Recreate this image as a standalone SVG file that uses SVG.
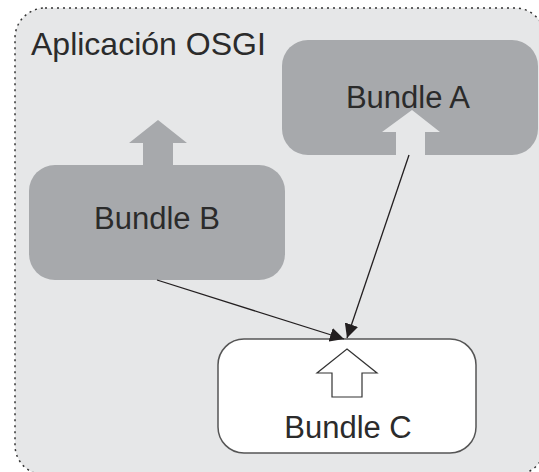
<svg xmlns="http://www.w3.org/2000/svg" width="539" height="472" viewBox="0 0 539 472">
<style>
.lbl{font-family:"Liberation Sans",Arial,sans-serif;font-size:31px;fill:#2b2b2b;}
.dark{fill:#a7a9ac;}
.conn{stroke:#231f20;stroke-width:1.3;fill:none;}
</style>
<defs>
<marker id="ah" viewBox="0 0 10 10" refX="10" refY="5" markerWidth="14" markerHeight="14" markerUnits="userSpaceOnUse" orient="auto">
<path d="M0,0 L10,5 L0,10 z" fill="#231f20"/>
</marker>
</defs>
<rect width="539" height="472" fill="#ffffff"/>
<g id="app">
<rect x="15" y="8" width="530" height="467" rx="30" fill="#e6e7e8" stroke="#333" stroke-width="1.5" stroke-dasharray="2 4"/>
<text class="lbl" x="31" y="55" style="font-size:32px">Aplicación OSGI</text>
</g>
<g id="bundleA">
<rect class="dark" x="282" y="40" width="256" height="115" rx="26"/>
<path d="M412,110 L440,132 L425,132 L425,156 L396,156 L396,132 L382,132 Z" fill="#e6e7e8"/>
<text class="lbl" x="408" y="108" text-anchor="middle">Bundle A</text>
</g>
<g id="bundleB">
<rect class="dark" x="29" y="165" width="256" height="115" rx="26"/>
<path d="M158,120 L187,143 L173,143 L173,166 L143,166 L143,143 L129,143 Z" class="dark"/>
<text class="lbl" x="157" y="229" text-anchor="middle">Bundle B</text>
</g>
<g id="bundleC">
<rect x="218" y="339" width="258" height="114" rx="26" fill="#ffffff" stroke="#555" stroke-width="1.5"/>
<path d="M347,349 L377,373 L362,373 L362,397 L332,397 L332,373 L317,373 Z" fill="#ffffff" stroke="#333" stroke-width="1.2"/>
<text class="lbl" x="348" y="438" text-anchor="middle">Bundle C</text>
</g>
<g id="connectors">
<line class="conn" x1="409" y1="155" x2="347" y2="338" marker-end="url(#ah)"/>
<line class="conn" x1="157" y1="280" x2="344" y2="339" marker-end="url(#ah)"/>
</g>
</svg>
